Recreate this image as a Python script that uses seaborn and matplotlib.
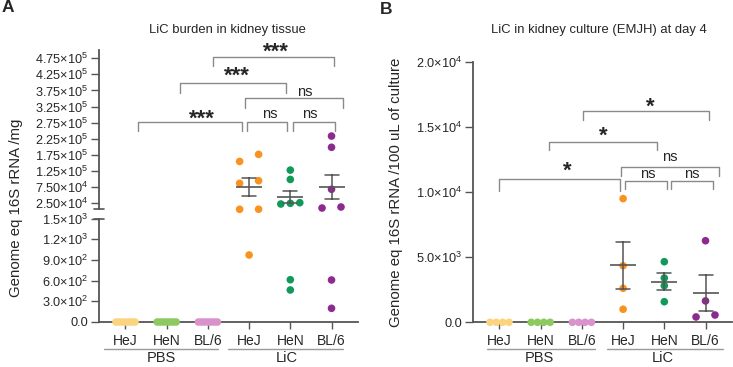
import numpy as np
import pandas as pd
import matplotlib.pyplot as plt
import seaborn as sns
from matplotlib.transforms import blended_transform_factory

sns.set_style('ticks')
plt.rcParams['font.family'] = ['Liberation Sans', 'DejaVu Sans']
plt.rcParams['mathtext.default'] = 'regular'

strains = ['HeJ', 'HeN', 'BL/6']
treatments = ['PBS', 'LiC']
groups = [t + ' ' + s for t in treatments for s in strains]
colors = ['#FCD37F', '#8DC860', '#DA92CD', '#F7931E', '#0F9A5A', '#8C2A8E']

# LiC burden in kidney tissue (genome eq 16S rRNA / mg)
tissue_pbs_hej = [0, 0, 0, 0, 0, 0, 0]
tissue_pbs_hen = [0, 0, 0, 0, 0, 0, 0]
tissue_pbs_bl6 = [0, 0, 0, 0, 0, 0, 0]
tissue_lic_hej = [176000, 154000, 94000, 86000, 5200, 5000, 973]
tissue_lic_hen = [127000, 98000, 23700, 25500, 21500, 614, 465]
tissue_lic_bl6 = [233000, 198000, 67300, 9000, 12200, 610, 199]

# LiC in kidney culture at day 4 (genome eq 16S rRNA / 100 uL)
culture_pbs_hej = [0, 0, 0, 0]
culture_pbs_hen = [0, 0, 0, 0]
culture_pbs_bl6 = [0, 0, 0, 0]
culture_lic_hej = [9490, 4340, 2610, 1000]
culture_lic_hen = [4650, 3400, 2810, 1580]
culture_lic_bl6 = [6260, 1640, 410, 560]

W, H = 733, 367
GREY = '#555555'


def to_frame(cols):
    rows = []
    for i, vals in enumerate(cols):
        for v in vals:
            rows.append({'idx': i, 'group': groups[i], 'value': v})
    return pd.DataFrame(rows)


tissue = to_frame([tissue_pbs_hej, tissue_pbs_hen, tissue_pbs_bl6,
                   tissue_lic_hej, tissue_lic_hen, tissue_lic_bl6])
culture = to_frame([culture_pbs_hej, culture_pbs_hen, culture_pbs_bl6,
                    culture_lic_hej, culture_lic_hen, culture_lic_bl6])


def spread(df, tol, half=0.23):
    # column scatter: values closer than tol sit side by side
    pos = df['idx'].astype(float).copy()
    for _, g in df.groupby('idx'):
        g = g.sort_values('value')
        clusters, last = [], None
        for k, v in g['value'].items():
            if clusters and v - last < tol:
                clusters[-1].append(k)
            else:
                clusters.append([k])
            last = v
        for c in clusters:
            if len(c) > 1:
                pos[c] += np.linspace(-half, half, len(c))
    return pos


def sci(dec):
    def f(v, _):
        if v == 0:
            return '0.0'
        e = int(np.floor(np.log10(v) + 1e-9))
        return f'{v / 10**e:.{dec}f}×10$^{{{e}}}$'
    return plt.FuncFormatter(f)


def rect(l, t, r, b):
    return [l / W, 1 - b / H, (r - l) / W, (b - t) / H]


def draw(ax, df, tol, lo=None, hi=None):
    sub = df
    if lo is not None:
        sub = sub[sub.value >= lo]
    if hi is not None:
        sub = sub[sub.value < hi]
    sub = sub.assign(pos=spread(sub, tol))
    sns.scatterplot(data=sub, x='pos', y='value', hue='group',
                    palette=dict(zip(groups, colors)), s=30, linewidth=0,
                    legend=False, ax=ax, clip_on=False, zorder=3)
    lic = df[df.idx >= 3]
    sns.pointplot(data=lic, x='idx', y='value', native_scale=True,
                  errorbar='se', capsize=0.34, color=GREY, marker='_',
                  markersize=19, markeredgewidth=1.2, linestyle='none',
                  err_kws={'linewidth': 1.1, 'zorder': 4}, zorder=4, ax=ax)
    ax.set_xlim(-0.65, 5.65)
    ax.set_xlabel('')
    ax.set_ylabel('')


def style(ax, bottom=True):
    sns.despine(ax=ax, bottom=not bottom)
    for sp in ['left', 'bottom']:
        ax.spines[sp].set_color(GREY)
        ax.spines[sp].set_linewidth(1.3)
    ax.tick_params(axis='y', length=6, width=1, color=GREY, labelsize=9.2, pad=1.5)
    if bottom:
        ax.set_xticks(range(6))
        ax.set_xticklabels(strains * 2)
        ax.tick_params(axis='x', length=5, width=1, color=GREY, labelsize=10, pad=3.5)
    else:
        ax.set_xticks([])


def bracket(ax, x1, x2, y, tip, label, tx, ty):
    ax.plot([x1, x1, x2, x2], [tip, y, y, tip], color='#8a8a8a', lw=1, clip_on=False)
    if label == 'ns':
        ax.text(tx, ty, label, ha='center', va='center', fontsize=10.5, clip_on=False)
    else:
        ax.text(tx, ty, label, ha='center', va='center', fontsize=16,
                fontweight='bold', clip_on=False)


def group_lines(ax, spans, centers):
    tr = blended_transform_factory(ax.transData, fig.transFigure)
    for (x1, x2), xc, lab in zip(spans, centers, treatments):
        ax.plot([x1, x2], [1 - 349 / H] * 2, transform=tr, clip_on=False,
                color='#9a9a9a', lw=1)
        ax.text(xc, 1 - 357.5 / H, lab, transform=tr, ha='center', va='center',
                fontsize=10.5)


fig = plt.figure(figsize=(W / 100, H / 100), dpi=100)

# ---- A: broken axis ----
axA_top = fig.add_axes(rect(98.7, 50.3, 358.3, 209.3))
axA_bot = fig.add_axes(rect(98.7, 218.7, 358.3, 322))
draw(axA_top, tissue, 25000, lo=2000)
draw(axA_bot, tissue, 100, hi=2000)
axA_top.set_ylim(5000, 500000)
axA_top.set_yticks(np.arange(25000, 475001, 50000))
axA_top.yaxis.set_major_formatter(sci(2))
axA_bot.set_ylim(0, 1500)
axA_bot.set_yticks(np.arange(0, 1501, 300))
axA_bot.yaxis.set_major_formatter(sci(1))
style(axA_top, bottom=False)
style(axA_bot)
for ax, yb in [(axA_top, 0), (axA_bot, 1)]:
    ax.plot([-0.02, 0.02], [yb, yb], transform=ax.transAxes, color=GREY,
            lw=1.2, clip_on=False)

for b in [(0.30, 2.83, 275800, 249700, '***', 1.85, 286000),
          (2.94, 3.93, 275800, 249700, 'ns', 3.51, 301000),
          (4.07, 5.08, 275800, 249700, 'ns', 4.48, 301000),
          (2.90, 5.27, 350500, 319400, 'ns', 4.36, 370000),
          (1.32, 3.90, 397200, 368000, '***', 2.70, 418000),
          (2.13, 5.06, 478200, 451100, '***', 3.65, 494000)]:
    bracket(axA_top, *b)
group_lines(axA_bot, [(-0.52, 2.25), (2.49, 5.28)], [0.88, 3.91])

fig.text(8 / W, 1 - 8 / H, 'A', fontsize=12.5, fontweight='bold', ha='center', va='center')
fig.text(227 / W, 1 - 30 / H, 'LiC burden in kidney tissue', fontsize=9.4, ha='center', va='center')
fig.text(16 / W, 1 - 208 / H, 'Genome eq 16S rRNA /mg', fontsize=10.8, rotation=90,
         ha='center', va='center')

# ---- B ----
axB = fig.add_axes(rect(472.7, 61.7, 732.3, 322.3))
draw(axB, culture, 500)
axB.set_ylim(0, 20000)
axB.set_yticks(np.arange(0, 20001, 5000))
axB.yaxis.set_major_formatter(sci(1))
style(axB)
for b in [(0.00, 2.92, 10975, 10077, '*', 1.65, 11600),
          (1.21, 3.82, 13860, 13223, '*', 2.52, 14250),
          (2.03, 5.09, 16217, 15526, '*', 3.65, 16500),
          (2.94, 5.33, 11896, 11251, 'ns', 4.14, 12663),
          (3.05, 4.06, 10844, 10207, 'ns', 3.61, 11358),
          (4.16, 5.17, 10844, 10207, 'ns', 4.67, 11358)]:
    bracket(axB, *b)
group_lines(axB, [(-0.31, 2.32), (2.61, 5.42)], [0.98, 3.97])

fig.text(386 / W, 1 - 9 / H, 'B', fontsize=12.5, fontweight='bold', ha='center', va='center')
fig.text(599 / W, 1 - 30 / H, 'LiC in kidney culture (EMJH) at day 4', fontsize=9.4,
         ha='center', va='center')
fig.text(396 / W, 1 - 192 / H, 'Genome eq 16S rRNA /100 uL of culture', fontsize=10.8,
         rotation=90, ha='center', va='center')

fig.savefig('out.png', dpi=100)
